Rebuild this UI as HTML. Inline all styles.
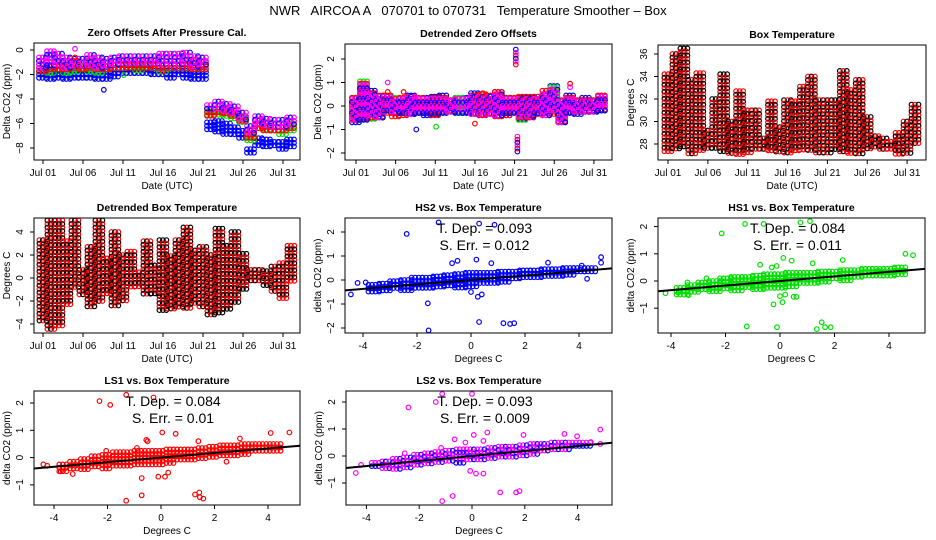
<!DOCTYPE html>
<html><head><meta charset="utf-8"><title>NWR AIRCOA A Temperature Smoother</title>
<style>
html,body{margin:0;padding:0;background:#fff;}
svg{display:block;font-family:"Liberation Sans",sans-serif;}
#main-title{white-space:pre;}
</style></head>
<body>
<svg id="chart" width="936" height="540" viewBox="0 0 936 540" xmlns="http://www.w3.org/2000/svg">
<rect x="0" y="0" width="936" height="540" fill="#fff"/>
<text id="main-title" x="468" y="15" text-anchor="middle" font-size="13" xml:space="preserve">NWR   AIRCOA A   070701 to 070731   Temperature Smoother – Box</text>
</svg>
<script>
// ---------- data ----------
const days = [1,2,3,4,5,6,7,8,9,10,11,12,13,14,15,16,17,18,19,20,21,22,23,24,25,26,27,28,29,30,31,32];
const dayTicks = [1,6,11,16,21,26,31];
const dayTickLabels = ["Jul 01","Jul 06","Jul 11","Jul 16","Jul 21","Jul 26","Jul 31"];

// Panel A: zero offsets (daily ranges)
const aBlueLo = [-2.5,-2.6,-2.5,-2.5,-2.4,-2.3,-2.3,-2.5,-2.4,-2.2,-2.1,-2.0,-2.1,-2.1,-2.2,-2.2,-2.3,-2.2,-2.3,-2.4,-2.4,-6.6,-6.9,-6.9,-7.0,-7.3,-8.6,-7.9,-8.0,-8.0,-8.1,-7.9];
const aBlueHi = [-1.7,-1.8,-1.7,-1.8,-1.7,-1.7,-1.7,-1.8,-1.8,-1.6,-1.6,-1.6,-1.6,-1.6,-1.7,-1.7,-1.7,-1.7,-1.7,-1.8,-1.8,-5.9,-5.8,-6.0,-6.3,-6.6,-8.1,-7.2,-7.3,-7.5,-7.5,-7.3];
const aGreenLo = [-1.9,-1.9,-1.8,-1.9,-1.8,-1.7,-1.8,-1.9,-1.8,-1.7,-1.7,-1.6,-1.7,-1.6,-1.7,-1.8,-1.7,-1.7,-1.7,-1.8,-1.8,-5.5,-5.5,-5.6,-5.8,-6.1,-7.4,-6.6,-6.7,-6.8,-6.9,-6.6];
const aGreenHi = [-1.2,-1.3,-1.3,-1.3,-1.2,-1.2,-1.2,-1.3,-1.3,-1.2,-1.2,-1.1,-1.1,-1.1,-1.2,-1.2,-1.2,-1.2,-1.2,-1.3,-1.3,-5.0,-5.0,-5.1,-5.3,-5.6,-6.8,-6.1,-6.2,-6.3,-6.3,-6.0];
const aRedLo = [-1.8,-1.8,-1.7,-1.8,-1.7,-1.6,-1.7,-1.8,-1.7,-1.6,-1.6,-1.5,-1.6,-1.5,-1.6,-1.7,-1.6,-1.6,-1.6,-1.7,-1.7,-5.4,-5.3,-5.4,-5.6,-6.0,-7.3,-6.5,-6.6,-6.7,-6.8,-6.5];
const aRedHi = [-0.9,-1.0,-1.0,-1.0,-0.9,-1.0,-0.9,-1.0,-1.0,-0.9,-0.9,-0.9,-0.9,-0.9,-0.9,-0.9,-0.9,-0.9,-0.9,-1.0,-1.0,-4.8,-4.8,-4.9,-5.1,-5.5,-6.6,-5.8,-6.0,-6.0,-6.0,-5.8];
const aPurpleLo = [-1.5,-1.5,-1.4,-1.5,-1.4,-1.3,-1.4,-1.5,-1.5,-1.4,-1.3,-1.3,-1.3,-1.3,-1.3,-1.4,-1.3,-1.3,-1.3,-1.4,-1.4,-5.0,-5.0,-5.1,-5.3,-5.7,-6.9,-6.1,-6.3,-6.3,-6.4,-6.1];
const aPurpleHi = [-0.6,-0.1,-0.3,-0.6,-0.7,-0.7,-0.4,-0.6,-0.7,-0.6,-0.5,-0.5,-0.5,-0.5,-0.5,-0.3,-0.3,-0.3,-0.2,-0.5,-0.6,-4.5,-4.2,-4.4,-4.6,-5.1,-6.2,-5.4,-5.6,-5.7,-5.7,-5.5];
const aOutDays = [8.6,11.1,16.0,5.0,5.0];
const aOutVals = [-3.25,-2.05,-1.75,0.1,-0.6];
const aOutColors = ["#0000ff","#00dd00","#ff0000","#ff00ff","#ff0000"];

// Panel B: detrended zero offsets
const bBlueLo = [-0.7,-0.6,-0.6,-0.6,-0.3,-0.3,-0.4,-0.4,-0.4,-0.4,-0.4,-0.3,-0.3,-0.3,-0.3,-0.4,-0.4,-0.4,-0.4,-0.4,-0.3,-0.6,-0.5,-0.4,-0.4,-0.3,-0.7,-0.3,-0.4,-0.3,-0.3,-0.2];
const bBlueHi = [0.35,0.7,0.65,0.4,0.4,0.3,0.3,0.45,0.3,0.35,0.4,0.45,0.2,0.35,0.35,0.55,0.4,0.4,0.6,0.35,0.35,0.35,0.35,0.3,0.45,0.85,0.2,0.45,0.25,0.35,0.25,0.4];
const bGreenLo = [-0.65,-0.7,-0.6,-0.6,-0.3,-0.3,-0.4,-0.4,-0.35,-0.4,-0.4,-0.3,-0.3,-0.35,-0.4,-0.4,-0.4,-0.45,-0.4,-0.4,-0.3,-0.6,-0.5,-0.4,-0.4,-0.3,-0.8,-0.3,-0.3,-0.3,-0.3,-0.2];
const bGreenHi = [0.3,1.05,0.5,0.4,0.4,0.35,0.3,0.4,0.3,0.3,0.3,0.3,0.2,0.35,0.3,0.4,0.4,0.4,0.5,0.3,0.3,0.3,0.3,0.3,0.5,0.8,0.2,0.3,0.2,0.2,0.2,0.4];
const bRedLo = [-0.6,-0.65,-0.55,-0.55,-0.35,-0.45,-0.4,-0.4,-0.3,-0.4,-0.4,-0.3,-0.3,-0.3,-0.3,-0.4,-0.45,-0.4,-0.45,-0.4,-0.3,-0.5,-0.5,-0.45,-0.4,-0.35,-0.75,-0.35,-0.3,-0.3,-0.3,-0.25];
const bRedHi = [0.35,0.95,0.55,0.45,0.45,0.3,0.35,0.4,0.35,0.3,0.35,0.35,0.25,0.3,0.3,0.45,0.5,0.45,0.6,0.35,0.35,0.4,0.4,0.4,0.65,0.7,0.25,0.35,0.25,0.25,0.25,0.45];
const bPurpleLo = [-0.6,-0.6,-0.5,-0.5,-0.3,-0.3,-0.4,-0.4,-0.3,-0.4,-0.4,-0.3,-0.3,-0.3,-0.3,-0.4,-0.4,-0.4,-0.4,-0.4,-0.3,-0.5,-0.5,-0.4,-0.4,-0.3,-0.7,-0.3,-0.3,-0.3,-0.3,-0.2];
const bPurpleHi = [0.3,0.9,0.5,0.4,0.4,0.2,0.3,0.4,0.3,0.3,0.3,0.3,0.2,0.3,0.3,0.4,0.4,0.4,0.5,0.3,0.3,0.3,0.3,0.3,0.5,0.7,0.2,0.3,0.2,0.2,0.2,0.4];
const bSpikeDays = [21.3,21.5];
const bSpikeLo = [1.7,-2.05];
const bSpikeHi = [2.4,-1.3];
const bOutDays = [8.6,11.1,16.0,5.0,5.0,7.0,28.0,28.0,17.0];
const bOutVals = [-1.0,-0.88,-0.75,1.0,0.6,0.6,0.95,0.8,0.55];
const bOutColors = ["#0000ff","#00dd00","#ff0000","#ff00ff","#ff0000","#ff0000","#ff0000","#ff00ff","#ff0000"];

// Panel C: box temperature
const cTempLo = [27.3,27.4,27.5,26.9,27.3,27.5,27.6,27.2,27.0,27.1,27.1,27.3,27.3,27.3,27.1,27.1,27.3,27.3,27.3,27.1,27.1,27.3,27.1,27.1,27.1,27.3,27.5,27.5,27.4,27.0,27.0,28.0];
const cTempHi = [34.2,36.0,36.5,33.7,34.3,29.2,32.0,34.2,30.0,32.7,31.0,31.0,28.5,31.8,29.5,31.9,31.8,33.1,34.0,31.9,31.9,31.9,34.5,32.8,33.7,30.4,28.7,28.5,28.2,29.0,30.0,31.5];

// Panel D: detrended box temperature
const dTempLo = [-3.8,-4.5,-4.4,-2.5,-1.0,-1.7,-2.7,-2.2,-1.5,-2.4,-2.0,-1.0,-1.0,-1.5,-1.6,-2.8,-2.7,-2.5,-2.9,-2.3,-2.6,-3.3,-3.1,-2.9,-2.2,-1.0,-0.5,-0.5,-0.8,-1.4,-1.8,-0.5];
const dTempHi = [3.3,5.0,5.0,3.2,5.0,0.7,2.7,5.0,1.7,4.0,2.0,2.3,0.5,3.2,1.1,3.3,1.9,3.3,4.4,2.4,2.7,2.0,4.3,2.8,4.0,2.1,0.7,0.7,0.6,1.0,1.3,2.8];

// Scatter panels
const tempBins = [-3.6,-3.2,-2.8,-2.4,-2.0,-1.6,-1.2,-0.8,-0.4,0,0.4,0.8,1.2,1.6,2.0,2.4,2.8,3.2,3.6,4.0,4.4];
const xTicks = [-4,-2,0,2,4];

const hs2Lo = [-0.5,-0.45,-0.45,-0.45,-0.4,-0.4,-0.35,-0.35,-0.35,-0.3,-0.2,-0.15,-0.1,-0.05,0,0.05,0.1,0.15,0.2,0.25,0.3];
const hs2Hi = [-0.2,-0.15,-0.05,0,0.1,0.1,0.15,0.2,0.25,0.3,0.3,0.3,0.35,0.35,0.4,0.4,0.45,0.45,0.5,0.5,0.5];
const hs2OutX = [-2.38,-1.2,0.3,0.87,-1.6,-1.57,0.3,1.2,1.45,1.6,2.85,4.82,4.82,0.2,-0.7,-0.5,0.75,-4.45,-4.2,-3.9,0.0,0.25,0.4,4.3,4.1];
const hs2OutY = [1.92,2.4,2.35,2.3,-0.97,-2.1,-1.75,-1.8,-1.83,-1.8,0.72,0.95,0.72,0.85,0.7,0.8,0.7,-0.6,-0.12,-0.1,-0.5,-0.7,-0.6,0.05,0.6];
const hs2Slope = 0.093, hs2Intercept = 0.0;

const hs1Lo = [-0.5,-0.45,-0.4,-0.4,-0.35,-0.35,-0.3,-0.3,-0.3,-0.25,-0.2,-0.15,-0.1,-0.05,0,0.0,0.05,0.1,0.15,0.2,0.25];
const hs1Hi = [-0.25,-0.15,-0.05,0,0.1,0.15,0.15,0.2,0.25,0.25,0.3,0.3,0.3,0.35,0.35,0.4,0.4,0.45,0.45,0.45,0.5];
const hs1OutX = [-2.14,-1.28,-0.6,0.75,1.1,-1.22,-0.11,1.35,1.53,1.65,1.86,-0.24,0.09,0,0.19,0.5,0.6,-0.73,-0.3,-0.12,0.12,0.43,1.2,2.3,4.6,4.88,-4.2,-3.73,-3.35,-3.4,-2.7,3.6];
const hs1OutY = [1.75,2.1,2.1,2.15,2.2,-1.67,-1.7,-1.77,-1.52,-1.7,-1.7,-0.86,-0.78,-0.56,-0.5,-0.58,-0.58,0.6,0.5,0.55,0.85,0.75,0.65,0.77,1.0,0.95,-0.45,-0.43,-0.52,-0.05,0.1,0.38];
const hs1Slope = 0.084, hs1Intercept = 0.0;

const ls1Lo = [-0.55,-0.5,-0.45,-0.4,-0.4,-0.35,-0.35,-0.3,-0.3,-0.25,-0.2,-0.15,-0.1,-0.05,0,0,0.05,0.1,0.15,0.2,0.25];
const ls1Hi = [-0.25,-0.15,-0.05,0.05,0.1,0.2,0.2,0.25,0.25,0.25,0.3,0.3,0.3,0.35,0.4,0.45,0.45,0.5,0.5,0.5,0.5];
const ls1OutX = [-2.3,-1.9,-1.3,-0.28,-1.3,-0.72,-0.72,0.05,0.55,-0.55,-0.5,-0.1,0.15,0.27,1.27,1.45,1.58,1.43,2.95,4.1,4.8,-4.4,-4.25,-3.75,-3.3,1.4,2.45,-0.9,-2.05];
const ls1OutY = [2.07,1.93,2.3,2.2,-1.58,-0.75,-1.38,0.92,0.87,0.65,0.6,-0.7,-0.7,-0.55,-1.35,-1.45,-1.5,-1.28,0.7,0.9,0.92,-0.25,-0.3,-0.5,-0.6,0.6,-0.15,0.35,0.25];
const ls1Slope = 0.084, ls1Intercept = 0.0;

const ls2Lo = [-0.5,-0.5,-0.5,-0.45,-0.4,-0.35,-0.35,-0.3,-0.3,-0.25,-0.2,-0.15,-0.1,-0.05,0,0.05,0.1,0.15,0.2,0.25,0.3];
const ls2Hi = [-0.25,-0.2,-0.1,-0.05,0.05,0.1,0.15,0.2,0.25,0.25,0.25,0.3,0.35,0.35,0.4,0.45,0.45,0.5,0.5,0.5,0.5];
const ls2OutX = [-2.41,-1.37,-1.13,0.0,-1.13,-0.73,1.07,1.67,1.8,0.07,0.58,1.95,0.43,-0.66,-0.25,-0.07,0.15,0.43,3.5,3.98,4.86,4.86,4.5,-4.4,-4.2,-2.55,-1.17];
const ls2OutY = [1.8,2.0,2.3,2.3,-1.67,-1.48,-1.35,-1.35,-1.3,0.78,0.87,0.78,0.56,0.62,0.5,-0.55,-0.65,-0.65,0.82,0.73,0.98,0.45,0.52,-0.63,-0.33,0.1,0.3];
const ls2Slope = 0.093, ls2Intercept = 0.0;

// ---------- drawing ----------
const NS = "http://www.w3.org/2000/svg";
const svg = document.getElementById('chart');
function mk(tag, parent){ const e=document.createElementNS(NS,tag); parent.appendChild(e); return e; }

function dot(g, x, y, color){
  const c = mk('circle', g);
  c.setAttribute('cx', x.toFixed(1)); c.setAttribute('cy', y.toFixed(1));
  c.setAttribute('r', 2.3); c.setAttribute('fill', 'none');
  c.setAttribute('stroke', color); c.setAttribute('stroke-width', 1.2);
  
  
}

function band(g, sx, sy, xs, lo, hi, hw, colors, stepX, stepY){
  let ci = 0;
  for (let i=0;i<xs.length;i++){
    if (lo[i]==null) continue;
    const x1=sx(xs[i]-hw), x2=sx(xs[i]+hw), y1=sy(hi[i]), y2=sy(lo[i]);
    for (let x=x1; x<=x2+0.01; x+=stepX){
      for (let y=y1; y<=y2+0.01; y+=stepY){ dot(g, x, y, colors[(ci++)%colors.length]); }
      ci++;
    }
  }
}

function points(g, sx, sy, xs, ys, colors){
  for (let i=0;i<xs.length;i++) dot(g, sx(xs[i]), sy(ys[i]), Array.isArray(colors)?colors[i]:colors);
}

function txt(parent, x, y, s, size, opts){
  const t = mk('text', parent);
  t.setAttribute('x', x); t.setAttribute('y', y);
  t.setAttribute('font-size', size); t.setAttribute('text-anchor', 'middle');
  if (opts && opts.bold) t.setAttribute('font-weight','bold');
  if (opts && opts.rot) t.setAttribute('transform', 'rotate(-90 '+x+' '+y+')');
  t.textContent = s;
  return t;
}

function frame(p){
  const g = mk('g', svg);
  
  
  const b = p.box;
  const clip = mk('clipPath', g);
  clip.setAttribute('id', 'clip-'+p.name);
  const cr = mk('rect', clip);
  cr.setAttribute('x', b.l); cr.setAttribute('y', b.t); cr.setAttribute('width', b.r-b.l); cr.setAttribute('height', b.b-b.t);
  const dg = mk('g', g);
  dg.setAttribute('clip-path', 'url(#clip-'+p.name+')');
  
  
  const r = mk('rect', g);
  r.setAttribute('x', b.l); r.setAttribute('y', b.t); r.setAttribute('width', b.r-b.l); r.setAttribute('height', b.b-b.t);
  r.setAttribute('fill','none'); r.setAttribute('stroke','#000'); r.setAttribute('stroke-width',1);
  
  
  const title = txt(g, (b.l+b.r)/2, b.t-7, p.title, 10.5, {bold:true});
  
  
  for (let i=0;i<p.xt.length;i++){
    const x = p.sx(p.xt[i]);
    const l = mk('line', g);
    l.setAttribute('x1',x); l.setAttribute('x2',x); l.setAttribute('y1',b.b); l.setAttribute('y2',b.b+4);
    l.setAttribute('stroke','#000');
    
    
    const t = txt(g, x, b.b+16, p.xl[i], 10);
    
    
  }
  const xt = txt(g, (b.l+b.r)/2, b.b+29, p.xtitle, 10);
  
  
  for (let i=0;i<p.yt.length;i++){
    const y = p.sy(p.yt[i]);
    const l = mk('line', g);
    l.setAttribute('x1',b.l-4); l.setAttribute('x2',b.l); l.setAttribute('y1',y); l.setAttribute('y2',y);
    l.setAttribute('stroke','#000');
    
    
    const t = txt(g, b.l-11, y, String(p.yt[i]).replace('-','\u2212'), 10, {rot:true});
    
    
  }
  const yt = txt(g, b.l-24, (b.t+b.b)/2, p.ytitle, 10, {rot:true});
  
  
  return dg;
}

function series(parent, name){
  const g = mk('g', parent);
  
  
  return g;
}

const BLUE="#0000ff", GREEN="#00e000", RED="#ff0000", MAG="#ff00ff";
const PURPLE=[MAG, BLUE, MAG], TEMPC=[RED, "#000000"];

// Panel A
{
  const sx = d => 43+(d-1)*8, sy = v => 50 - v*12.25;
  const g = frame({name:'zero-offsets-panel', box:{l:34,r:300,t:43,b:160}, title:'Zero Offsets After Pressure Cal.', sx, sy,
    xt:dayTicks, xl:dayTickLabels, yt:[0,-2,-4,-6,-8], xtitle:'Date (UTC)', ytitle:'Delta CO2 (ppm)'});
  band(series(g,'hs2-series'), sx, sy, days, aBlueLo, aBlueHi, 0.5, [BLUE], 3.5, 3.5);
  band(series(g,'hs1-series'), sx, sy, days, aGreenLo, aGreenHi, 0.5, [GREEN], 3.5, 3.5);
  band(series(g,'ls1-series'), sx, sy, days, aRedLo, aRedHi, 0.5, [RED], 3.5, 3.5);
  band(series(g,'ls2-series'), sx, sy, days, aPurpleLo, aPurpleHi, 0.5, PURPLE, 3.5, 3.5);
  points(series(g,'outliers'), sx, sy, aOutDays, aOutVals, aOutColors);
}
// Panel B
{
  const sx = d => 356+(d-1)*7.93, sy = v => 106 - v*23.5;
  const g = frame({name:'detrended-zero-offsets-panel', box:{l:345,r:612,t:44,b:160}, title:'Detrended Zero Offsets', sx, sy,
    xt:dayTicks, xl:dayTickLabels, yt:[-2,-1,0,1,2], xtitle:'Date (UTC)', ytitle:'Delta CO2 (ppm)'});
  band(series(g,'hs2-series'), sx, sy, days, bBlueLo, bBlueHi, 0.5, [BLUE], 3.5, 3.5);
  band(series(g,'hs1-series'), sx, sy, days, bGreenLo, bGreenHi, 0.5, [GREEN], 3.5, 3.5);
  band(series(g,'ls1-series'), sx, sy, days, bRedLo, bRedHi, 0.5, [RED], 3.5, 3.5);
  band(series(g,'ls2-series'), sx, sy, days, bPurpleLo, bPurpleHi, 0.5, PURPLE, 3.5, 3.5);
  band(series(g,'spike-series'), sx, sy, bSpikeDays, bSpikeLo, bSpikeHi, 0.15, [BLUE,MAG,RED], 3, 3);
  points(series(g,'outliers'), sx, sy, bOutDays, bOutVals, bOutColors);
}
// Panel C
{
  const sx = d => 668+(d-1)*7.97, sy = v => 144 - (v-28)*11.25;
  const g = frame({name:'box-temperature-panel', box:{l:658,r:926,t:45,b:160}, title:'Box Temperature', sx, sy,
    xt:dayTicks, xl:dayTickLabels, yt:[28,30,32,34,36], xtitle:'Date (UTC)', ytitle:'Degrees C'});
  band(series(g,'temperature-series'), sx, sy, days, cTempLo, cTempHi, 0.45, TEMPC, 3.5, 3.5);
}
// Panel D
{
  const sx = d => 43+(d-1)*8, sy = v => 278 - v*11.5;
  const g = frame({name:'detrended-box-temperature-panel', box:{l:34,r:300,t:218,b:333}, title:'Detrended Box Temperature', sx, sy,
    xt:dayTicks, xl:dayTickLabels, yt:[-4,-2,0,2,4], xtitle:'Date (UTC)', ytitle:'Degrees C'});
  band(series(g,'temperature-series'), sx, sy, days, dTempLo, dTempHi, 0.45, TEMPC, 3.5, 3.5);
}
// Scatter panels
function scatter(name, title, box, x0, kx, y0, ky, yt, lo, hi, ox, oy, colors, slope, icpt, dep, err){
  const sx = v => x0 + v*kx, sy = v => y0 - v*ky;
  const g = frame({name, box, title, sx, sy, xt:xTicks, xl:xTicks.map(String), yt, xtitle:'Degrees C', ytitle:'delta CO2 (ppm)'});
  band(series(g,'point-cloud'), sx, sy, tempBins, lo, hi, 0.2, colors, 3.6, 3.4);
  points(series(g,'outliers'), sx, sy, ox, oy, colors[0]);
  const xa = (box.l - x0)/kx, xb = (box.r - x0)/kx;
  const l = mk('line', g);
  l.setAttribute('x1', sx(xa)); l.setAttribute('y1', sy(icpt+slope*xa));
  l.setAttribute('x2', sx(xb)); l.setAttribute('y2', sy(icpt+slope*xb));
  l.setAttribute('stroke','#000'); l.setAttribute('stroke-width',2);
  
  
  const cx = (box.l+box.r)/2 + 6;
  const t1 = txt(g, cx, box.t+15, 'T. Dep. =  '+dep, 14);
  
  
  const t2 = txt(g, cx, box.t+32, 'S. Err. =  '+err, 14);
  
  
}
scatter('hs2-vs-temperature-panel','HS2 vs. Box Temperature',{l:345,r:612,t:218,b:333},471,27,280,24,[-2,-1,0,1,2],hs2Lo,hs2Hi,hs2OutX,hs2OutY,[BLUE],hs2Slope,hs2Intercept,'0.093','0.012');
scatter('hs1-vs-temperature-panel','HS1 vs. Box Temperature',{l:658,r:925,t:218,b:333},780,27.25,281,27.2,[-1,0,1,2],hs1Lo,hs1Hi,hs1OutX,hs1OutY,[GREEN],hs1Slope,hs1Intercept,'0.084','0.011');
scatter('ls1-vs-temperature-panel','LS1 vs. Box Temperature',{l:34,r:300,t:391,b:505},161,26.75,457.6,27.3,[-1,0,1,2],ls1Lo,ls1Hi,ls1OutX,ls1OutY,[RED],ls1Slope,ls1Intercept,'0.084','0.01');
scatter('ls2-vs-temperature-panel','LS2 vs. Box Temperature',{l:346,r:612,t:391,b:505},472,26.4,456,27,[-1,0,1,2],ls2Lo,ls2Hi,ls2OutX,ls2OutY,PURPLE,ls2Slope,ls2Intercept,'0.093','0.009');
</script>
</body></html>
